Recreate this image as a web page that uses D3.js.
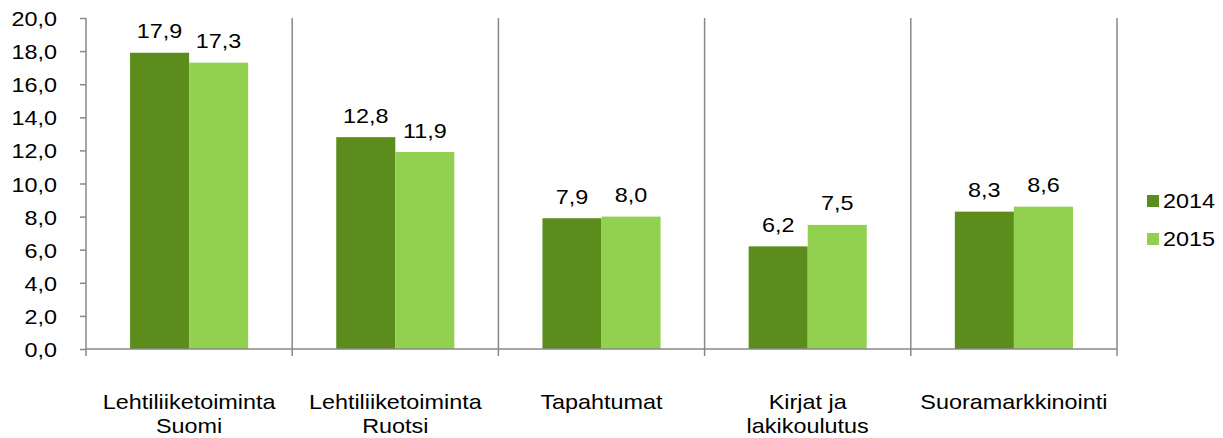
<!DOCTYPE html>
<html>
<head>
<meta charset="utf-8">
<script src="https://cdn.jsdelivr.net/npm/d3@7"></script>
<style>
  body { margin: 0; background: #fff; }
  text { font-family: Arial, "Liberation Sans", sans-serif; fill: #000; }
</style>
</head>
<body>
<div id="chart"></div>
<script>
"use strict";

var categories = ["Lehtiliiketoiminta\nSuomi", "Lehtiliiketoiminta\nRuotsi", "Tapahtumat", "Kirjat ja\nlakikoulutus", "Suoramarkkinointi"];
var series = ["2014", "2015"];
var values2014 = [17.9, 12.8, 7.9, 6.2, 8.3];
var values2015 = [17.3, 11.9, 8.0, 7.5, 8.6];
var yTicks = [0, 2, 4, 6, 8, 10, 12, 14, 16, 18, 20];
var colors = ["#5b8c1c", "#92d050"];

var width = 1223, height = 438;
var margin = { top: 18, right: 106, bottom: 89, left: 86 };
var fontSize = 20;
var stretch = 1.17; // the text in the original is drawn a bit wider than normal

var svg = d3.select("#chart").append("svg")
  .attr("width", width)
  .attr("height", height);

// draws a horizontally stretched label
var addText = function(parent, x, y, str, anchor) {
  var g = parent.append("g")
    .attr("transform", "translate(" + x + "," + y + ") scale(" + stretch + ",1)");
  g.append("text")
    .attr("text-anchor", anchor)
    .attr("font-size", fontSize)
    .text(str);
  return g;
};

var x0 = d3.scaleBand()
  .domain(categories)
  .range([margin.left, width - margin.right])
  .padding(0);

var x1 = d3.scaleBand()
  .domain(series)
  .range([0, x0.bandwidth()])
  .paddingInner(0)
  .paddingOuter(0.746);

var y = d3.scaleLinear()
  .domain([0, 20])
  .range([height - margin.bottom, margin.top]);

var fmt = function(v) { return d3.format(".1f")(v).replace(".", ","); };

var rows = categories.map(function(c, i) {
  return { cat: c, vals: [values2014[i], values2015[i]] };
});

// category separators
var seps = categories.map(function(c) { return x0(c) + x0.bandwidth(); });
svg.selectAll("line.sep")
  .data(seps)
  .enter().append("line")
  .attr("class", "sep")
  .attr("x1", function(d) { return d; })
  .attr("x2", function(d) { return d; })
  .attr("y1", y(20))
  .attr("y2", y(0) + 7)
  .attr("stroke", "#888")
  .attr("stroke-width", 1.5);

// bars
var groups = svg.selectAll("g.cat")
  .data(rows)
  .enter().append("g")
  .attr("class", "cat")
  .attr("transform", function(d) { return "translate(" + x0(d.cat) + ",0)"; });

groups.selectAll("rect")
  .data(function(d) { return d.vals.map(function(v, i) { return { s: series[i], v: v, i: i }; }); })
  .enter().append("rect")
  .attr("x", function(d) { return x1(d.s); })
  .attr("width", x1.bandwidth())
  .attr("y", function(d) { return y(d.v); })
  .attr("height", function(d) { return y(0) - y(d.v); })
  .attr("fill", function(d) { return colors[d.i]; });

groups.each(function(d) {
  var g = d3.select(this);
  d.vals.forEach(function(v, i) {
    addText(g, x1(series[i]) + x1.bandwidth() / 2, y(v) - 14.5, fmt(v), "middle");
  });
});

// y axis
var yAxis = svg.append("g")
  .attr("transform", "translate(" + margin.left + ",0)")
  .call(d3.axisLeft(y).tickValues(yTicks).tickFormat("").tickSize(6));
yAxis.select(".domain").remove();
yAxis.selectAll(".tick line").attr("stroke", "#888").attr("stroke-width", 1.5);
yAxis.selectAll(".tick").each(function(d) {
  addText(d3.select(this), -29, 7.5, fmt(d), "end");
});
yAxis.append("line")
  .attr("x1", 0).attr("x2", 0)
  .attr("y1", y(20)).attr("y2", y(0) + 7)
  .attr("stroke", "#888").attr("stroke-width", 1.5);

// x axis baseline
svg.append("line")
  .attr("x1", margin.left).attr("x2", width - margin.right)
  .attr("y1", y(0)).attr("y2", y(0))
  .attr("stroke", "#888").attr("stroke-width", 1.5);

// category labels
categories.forEach(function(d) {
  d.split("\n").forEach(function(line, i) {
    addText(svg, x0(d) + x0.bandwidth() / 2, 409 + i * 24, line, "middle");
  });
});

// legend
var legend = svg.selectAll("g.leg")
  .data(series)
  .enter().append("g")
  .attr("class", "leg")
  .attr("transform", function(d, i) { return "translate(1147," + (195 + i * 38) + ")"; });
legend.append("rect")
  .attr("width", 12).attr("height", 12)
  .attr("fill", function(d, i) { return colors[i]; });
legend.each(function(d) {
  addText(d3.select(this), 16, 13, d, "start");
});
</script>
</body>
</html>
